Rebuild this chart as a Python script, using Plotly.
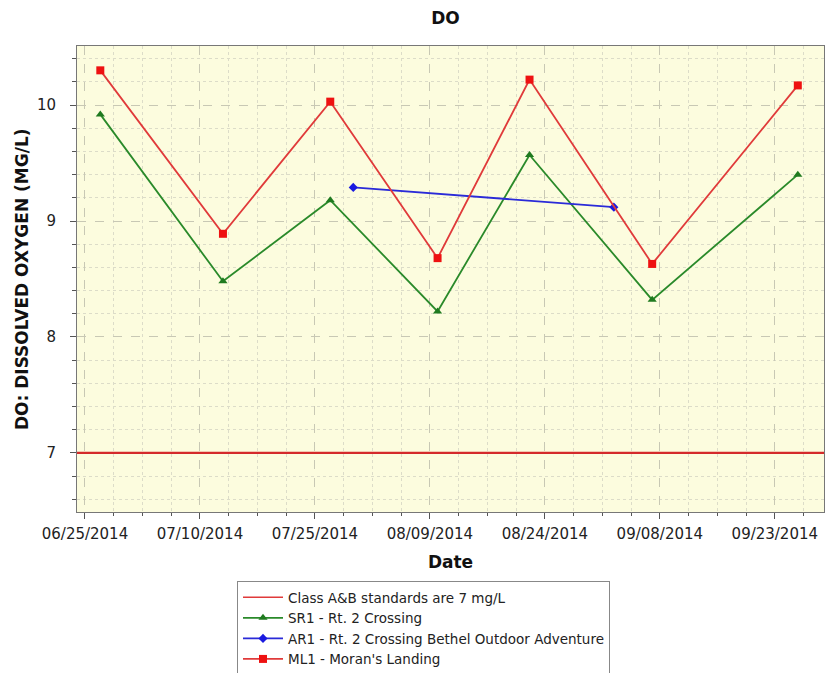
import plotly.graph_objects as go

# ---- data ----
ml1_dates = ["2014-06-27", "2014-07-13", "2014-07-27", "2014-08-10", "2014-08-22", "2014-09-07", "2014-09-26"]
ml1_values = [10.30, 8.89, 10.03, 8.68, 10.22, 8.63, 10.17]

sr1_dates = ["2014-06-27", "2014-07-13", "2014-07-27", "2014-08-10", "2014-08-22", "2014-09-07", "2014-09-26"]
sr1_values = [9.92, 8.48, 9.18, 8.22, 9.57, 8.32, 9.40]

ar1_dates = ["2014-07-30", "2014-09-02"]
ar1_values = [9.29, 9.12]

standard_value = 7
standard_label = "Class A&B standards are 7 mg/L"
sr1_label = "SR1 - Rt. 2 Crossing"
ar1_label = "AR1 - Rt. 2 Crossing Bethel Outdoor Adventure"
ml1_label = "ML1 - Moran's Landing"

x_range = ["2014-06-23 23:00", "2014-09-29 10:00"]
y_range = [6.49, 10.51]

FONT = "DejaVu Sans, Verdana, sans-serif"
DAY = 86400000

fig = go.Figure()

# legend entry for the standard line (line itself drawn as a shape)
fig.add_trace(go.Scatter(x=[None], y=[None], mode="lines", name=standard_label,
                         line=dict(color="#e03a3a", width=1.5)))
fig.add_trace(go.Scatter(x=sr1_dates, y=sr1_values, mode="lines+markers", name=sr1_label,
                         line=dict(color="#2a8a2a", width=1.8),
                         marker=dict(symbol="triangle-up", size=8, color="#1f7a1f")))
fig.add_trace(go.Scatter(x=ar1_dates, y=ar1_values, mode="lines+markers", name=ar1_label,
                         line=dict(color="#2a2ad8", width=1.8),
                         marker=dict(symbol="diamond", size=7, color="#1a1ae0")))
fig.add_trace(go.Scatter(x=ml1_dates, y=ml1_values, mode="lines+markers", name=ml1_label,
                         line=dict(color="#e03a3a", width=1.8),
                         marker=dict(symbol="square", size=8, color="#ee1111")))

fig.add_hline(y=standard_value, line=dict(color="#d42a2a", width=2.2), layer="above")

fig.update_layout(
    width=825, height=673,
    margin=dict(l=77, r=1, t=46, b=161, autoexpand=False),
    paper_bgcolor="white",
    plot_bgcolor="#fcfcde",
    font=dict(family=FONT, size=15, color="#222"),
    title=dict(text="<b>DO</b>", x=0.54, xref="container", xanchor="center",
               y=1 - 18 / 673, yref="container", yanchor="middle",
               font=dict(family=FONT, size=17, color="#111")),
    showlegend=True,
    legend=dict(x=237 / 825, xref="container", xanchor="left",
                y=1 - 581 / 673, yref="container", yanchor="top",
                bordercolor="#888", borderwidth=1, bgcolor="white",
                font=dict(family=FONT, size=13.5, color="#222"),
                tracegroupgap=0, itemwidth=40),
    annotations=[dict(text="<b>DO: DISSOLVED OXYGEN (MG/L)</b>", textangle=-90,
                      xref="paper", x=(22 - 77) / 748, xanchor="center",
                      yref="paper", y=0.5, yanchor="middle", showarrow=False,
                      font=dict(family=FONT, size=17, color="#111"))],
)

fig.update_xaxes(
    type="date", range=x_range,
    tick0="2014-06-25", dtick=15 * DAY, tickformat="%m/%d/%Y",
    ticks="outside", ticklen=6, tickcolor="#555", ticklabelstandoff=2,
    showline=True, linecolor="#777", linewidth=1, mirror=True,
    showgrid=True, gridcolor="#c8c8b4", griddash="dash", gridwidth=1,
    minor=dict(dtick=3.75 * DAY, tick0="2014-06-25", ticks="outside", ticklen=3,
               tickcolor="#555", showgrid=True, gridcolor="#dcdcc8", griddash="dot"),
    zeroline=False,
    tickfont=dict(family=FONT, size=15, color="#222"),
    title=dict(text="<b>Date</b>", standoff=14, font=dict(family=FONT, size=17, color="#111")),
)

fig.update_yaxes(
    range=y_range, dtick=1, tick0=0,
    ticks="outside", ticklen=6, tickcolor="#555",
    showline=True, linecolor="#777", linewidth=1, mirror=True,
    showgrid=True, gridcolor="#c8c8b4", griddash="dash", gridwidth=1,
    minor=dict(dtick=0.2, ticks="outside", ticklen=4, tickcolor="#555",
               showgrid=True, gridcolor="#dcdcc8", griddash="dot"),
    zeroline=False, ticklabelstandoff=11,
    tickfont=dict(family=FONT, size=15, color="#222"),
)

fig.write_html("out.html", config={"displayModeBar": False},
               post_script="document.body.style.margin='0';")
